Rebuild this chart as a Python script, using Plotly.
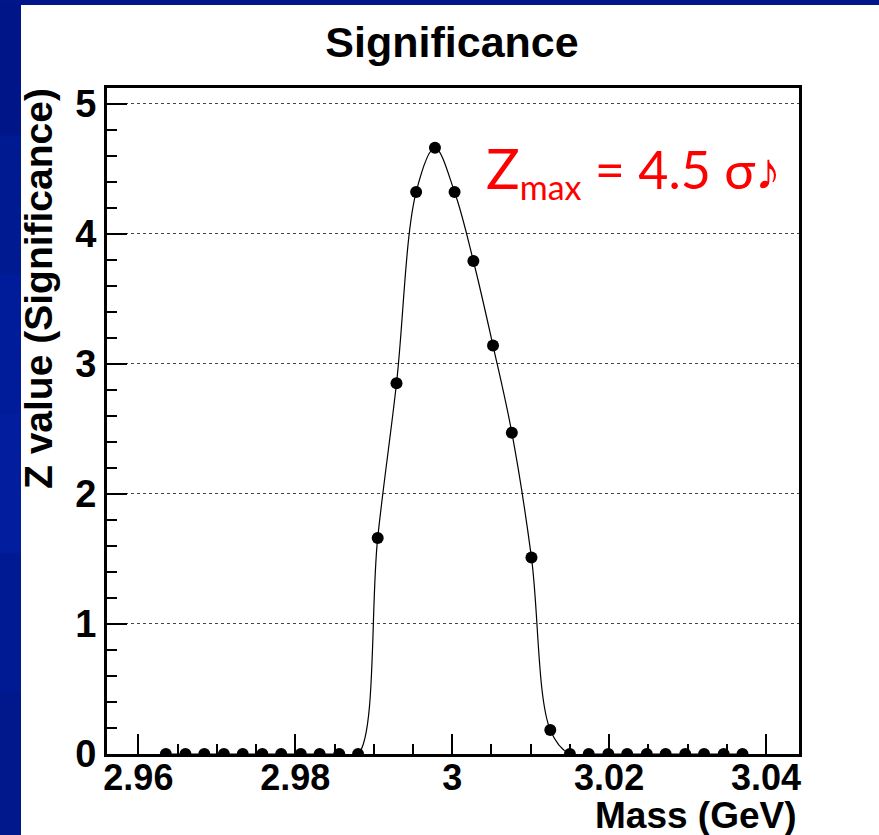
import plotly.graph_objects as go

# ---- data ----
mass = [2.9635, 2.9660, 2.9684, 2.9709, 2.9733, 2.9758, 2.9782, 2.9807, 2.9831, 2.9856,
        2.9880, 2.9905, 2.9929, 2.9954, 2.9978, 3.0003, 3.0027, 3.0052, 3.0076, 3.0101,
        3.0125, 3.0150, 3.0174, 3.0199, 3.0223, 3.0248, 3.0272, 3.0297, 3.0321, 3.0346,
        3.0370]
zval = [0, 0, 0, 0, 0, 0, 0, 0, 0, 0,
        0, 1.66, 2.85, 4.32, 4.66, 4.32, 3.79, 3.14, 2.47, 1.51,
        0.185, 0, 0, 0, 0, 0, 0, 0, 0, 0,
        0]
x_tickvals = [2.96, 2.98, 3.00, 3.02, 3.04]
x_ticktext = ["2.96", "2.98", "3", "3.02", "3.04"]
y_tickvals = [0, 1, 2, 3, 4, 5]
y_ticktext = ["0", "1", "2", "3", "4", "5"]

W, H = 879, 835
ML, MR, MT, MB = 107, 80, 88, 81
PW, PH = W - ML - MR, H - MT - MB


def px(xp):
    return (xp - ML) / PW


def py(yp):
    return (H - MB - yp) / PH


fig = go.Figure()
fig.add_trace(go.Scatter(
    x=mass, y=zval, mode="lines+markers",
    line=dict(color="black", width=1.2, shape="spline", smoothing=1.0),
    marker=dict(color="black", size=12),
    showlegend=False, hoverinfo="x+y",
))

bold = dict(family="Liberation Sans, Arial, sans-serif", color="black", weight="bold")

fig.update_layout(
    width=W, height=H,
    margin=dict(l=ML, r=MR, t=MT, b=MB, pad=0),
    paper_bgcolor="white", plot_bgcolor="white",
    title=dict(text="Significance", x=452 / W, xref="container", xanchor="center",
               y=1 - 42 / H, yref="container", yanchor="middle",
               font=dict(size=43, **bold)),
    xaxis=dict(
        range=[2.956, 3.0442], tickvals=x_tickvals, ticktext=x_ticktext,
        ticks="inside", ticklen=20, tickwidth=1.5, tickcolor="black",
        showline=True, linewidth=3, linecolor="black", mirror=True,
        showgrid=False, zeroline=False, ticklabelstandoff=-10,
        tickfont=dict(size=36, **bold),
        minor=dict(dtick=0.005, tick0=2.96, ticks="inside", ticklen=10,
                   tickwidth=1.5, tickcolor="black", showgrid=False),
    ),
    yaxis=dict(
        range=[0, 5.12], tickvals=y_tickvals, ticktext=y_ticktext,
        ticks="inside", ticklen=20, tickwidth=1.5, tickcolor="black",
        showline=True, linewidth=3, linecolor="black", mirror=True,
        showgrid=True, gridcolor="#444", gridwidth=1, griddash="dot",
        zeroline=False,
        tickfont=dict(size=38, **bold),
        minor=dict(dtick=0.2, tick0=0, ticks="inside", ticklen=10,
                   tickwidth=1.5, tickcolor="black", showgrid=False),
    ),
)

# slide background strips (blue), overlapping bands to avoid seams
blues = ["#001588", "#001a92", "#011c9a", "#021e9f", "#001a94", "#00188c"]
n = len(blues)
for i, c in enumerate(blues):
    y0 = py(H * (i + 1) / n + 4)
    y1 = py(H * i / n - 4)
    fig.add_shape(type="rect", xref="paper", yref="paper",
                  x0=px(-5), x1=px(21), y0=y0, y1=y1,
                  fillcolor=c, line=dict(width=0), layer="below")
fig.add_shape(type="rect", xref="paper", yref="paper",
              x0=px(-5), x1=px(W + 5), y0=py(5), y1=py(-5),
              fillcolor="#00168a", line=dict(width=0), layer="below")

# axis titles
fig.add_annotation(text="Z value (Significance)", textangle=-90,
                   xref="paper", yref="paper", x=px(38), y=py(289),
                   xanchor="center", yanchor="middle", showarrow=False,
                   font=dict(size=39, **bold))
fig.add_annotation(text="Mass (GeV)",
                   xref="paper", yref="paper", x=px(799), y=py(815),
                   xanchor="right", yanchor="middle", showarrow=False,
                   font=dict(size=37, **bold))

# red label
fig.add_annotation(
    text="<span style='font-size:56px'>Z</span><sub><span style='font-size:34px'>max</span></sub> = 4.5 σ♪",
    xref="paper", yref="paper", x=px(484), y=py(170),
    xanchor="left", yanchor="middle", showarrow=False,
    font=dict(family="Lato, 'Open Sans', sans-serif", size=52, color="#ff0000"))

fig.write_html("out.html")
